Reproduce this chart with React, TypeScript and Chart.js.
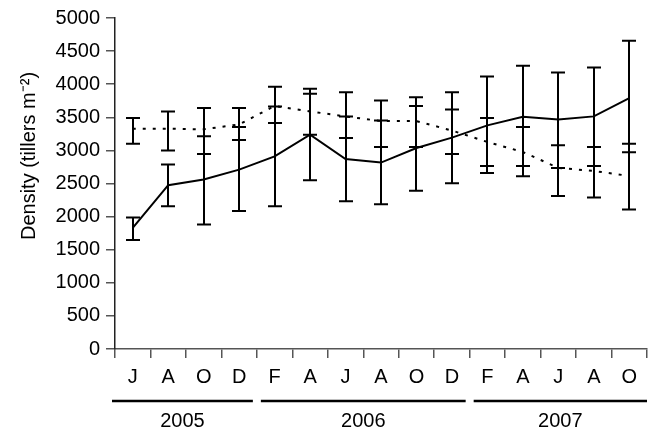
import React, { useEffect, useRef } from 'react';
import { Chart, registerables } from 'chart.js';
Chart.register(...registerables);

const months = ['J', 'A', 'O', 'D', 'F', 'A', 'J', 'A', 'O', 'D', 'F', 'A', 'J', 'A', 'O'];
const years = ['2005', '2006', '2007'];
const yearFirst = [0, 4, 10];
const yearLast = [3, 9, 14];
const yTitle = 'Density (tillers m⁻²)';

const solidMean = [1830, 2475, 2560, 2710, 2910, 3237, 2870, 2816, 3036, 3193, 3378, 3509, 3468, 3514, 3789];
const solidHi = [1988, 2786, 3212, 3353, 3664, 3930, 3513, 3453, 3669, 3880, 4116, 4277, 4176, 4251, 4658];
const solidLo = [1646, 2158, 1882, 2083, 2158, 2550, 2233, 2188, 2389, 2504, 2660, 2765, 2735, 2765, 2971];

const dottedMean = [3328, 3328, 3318, 3393, 3670, 3589, 3513, 3443, 3443, 3300, 3127, 2976, 2735, 2690, 2614];
const dottedHi = [3488, 3589, 3639, 3639, 3961, 3855, 3880, 3754, 3804, 3619, 3488, 3353, 3077, 3051, 3102];
const dottedLo = [3102, 2999, 2946, 3157, 3413, 3237, 3187, 3051, 3051, 2946, 2765, 2610, 2313, 2289, 2108];

const FONT = "'Liberation Sans', Arial, sans-serif";
const FS = 20;

const errorBars = {
  id: 'errorBars',
  afterDatasetsDraw(chart: any) {
    const ctx = chart.ctx;
    const ys = chart.scales.y;
    chart.data.datasets.forEach((ds: any, i: number) => {
      const meta = chart.getDatasetMeta(i);
      meta.data.forEach((pt: any, j: number) => {
        const x = Math.round(pt.x);
        const yh = ys.getPixelForValue(ds.errHi[j]);
        const yl = ys.getPixelForValue(ds.errLo[j]);
        ctx.save();
        ctx.strokeStyle = '#000';
        ctx.lineWidth = 2;
        ctx.setLineDash([]);
        ctx.beginPath();
        ctx.moveTo(x, yh);
        ctx.lineTo(x, yl);
        ctx.moveTo(x - 7, yh);
        ctx.lineTo(x + 7, yh);
        ctx.moveTo(x - 7, yl);
        ctx.lineTo(x + 7, yl);
        ctx.stroke();
        ctx.restore();
      });
    });
  },
};

const extraText = {
  id: 'extraText',
  afterDraw(chart: any) {
    const ctx = chart.ctx;
    const xs = chart.scales.x;
    const step = xs.getPixelForValue(1) - xs.getPixelForValue(0);
    const lineY = 401;
    ctx.save();
    ctx.strokeStyle = '#000';
    ctx.lineWidth = 2.5;
    ctx.fillStyle = '#000';
    ctx.font = `${FS}px ${FONT}`;
    ctx.textAlign = 'center';
    ctx.textBaseline = 'middle';
    years.forEach((yr, k) => {
      const x0 = xs.getPixelForValue(yearFirst[k]) - step / 2 + (k === 0 ? -3 : 4);
      const x1 = xs.getPixelForValue(yearLast[k]) + step / 2 - (k === years.length - 1 ? 0 : 4);
      ctx.beginPath();
      ctx.moveTo(x0, lineY);
      ctx.lineTo(x1, lineY);
      ctx.stroke();
      ctx.fillText(yr, (x0 + x1) / 2, 421);
    });
    // y-axis title
    ctx.translate(29, 156);
    ctx.rotate(-Math.PI / 2);
    ctx.fillText(yTitle, 0, 0);
    ctx.restore();
  },
};

export default function App() {
  const ref = useRef<HTMLCanvasElement>(null);
  useEffect(() => {
    if (!ref.current) return;
    const chart = new Chart(ref.current, {
      type: 'line',
      data: {
        labels: months,
        datasets: [
          {
            label: 'solid',
            data: solidMean,
            borderColor: '#000',
            borderWidth: 2,
            pointRadius: 0,
            tension: 0,
            fill: false,
            errHi: solidHi,
            errLo: solidLo,
          } as any,
          {
            label: 'dotted',
            data: dottedMean,
            borderColor: '#000',
            borderWidth: 2,
            borderDash: [3, 7],
            pointRadius: 0,
            tension: 0,
            fill: false,
            errHi: dottedHi,
            errLo: dottedLo,
          } as any,
        ],
      },
      options: {
        animation: false,
        responsive: false,
        layout: { padding: { top: 17, right: 4, left: 0, bottom: 0 } },
        plugins: { legend: { display: false }, tooltip: { enabled: false } },
        scales: {
          x: {
            type: 'category',
            offset: true,
            grid: {
              offset: true,
              drawOnChartArea: false,
              drawTicks: true,
              tickLength: 9,
              color: '#555',
              lineWidth: 1.5,
            },
            border: { display: true, color: '#555', width: 1.5 },
            ticks: {
              color: '#000',
              font: { family: FONT, size: FS },
              padding: 7,
              maxRotation: 0,
              autoSkip: false,
            },
            afterFit(scale: any) {
              scale.height = 84;
            },
          },
          y: {
            min: 0,
            max: 5000,
            grid: {
              drawOnChartArea: false,
              drawTicks: true,
              tickLength: 9,
              color: '#555',
              lineWidth: 1.5,
            },
            border: { display: true, color: '#222', width: 1.5 },
            ticks: {
              stepSize: 500,
              color: '#000',
              font: { family: FONT, size: FS },
              padding: 6,
              callback: (v: any) => String(v),
            },
            afterFit(scale: any) {
              scale.width = 115;
            },
          },
        },
      },
      plugins: [errorBars, extraText],
    });
    return () => chart.destroy();
  }, []);
  return (
    <div style={{ position: 'absolute', left: 0, top: 0, width: 651, height: 433, background: '#fff' }}>
      <canvas ref={ref} width={651} height={433} />
    </div>
  );
}
